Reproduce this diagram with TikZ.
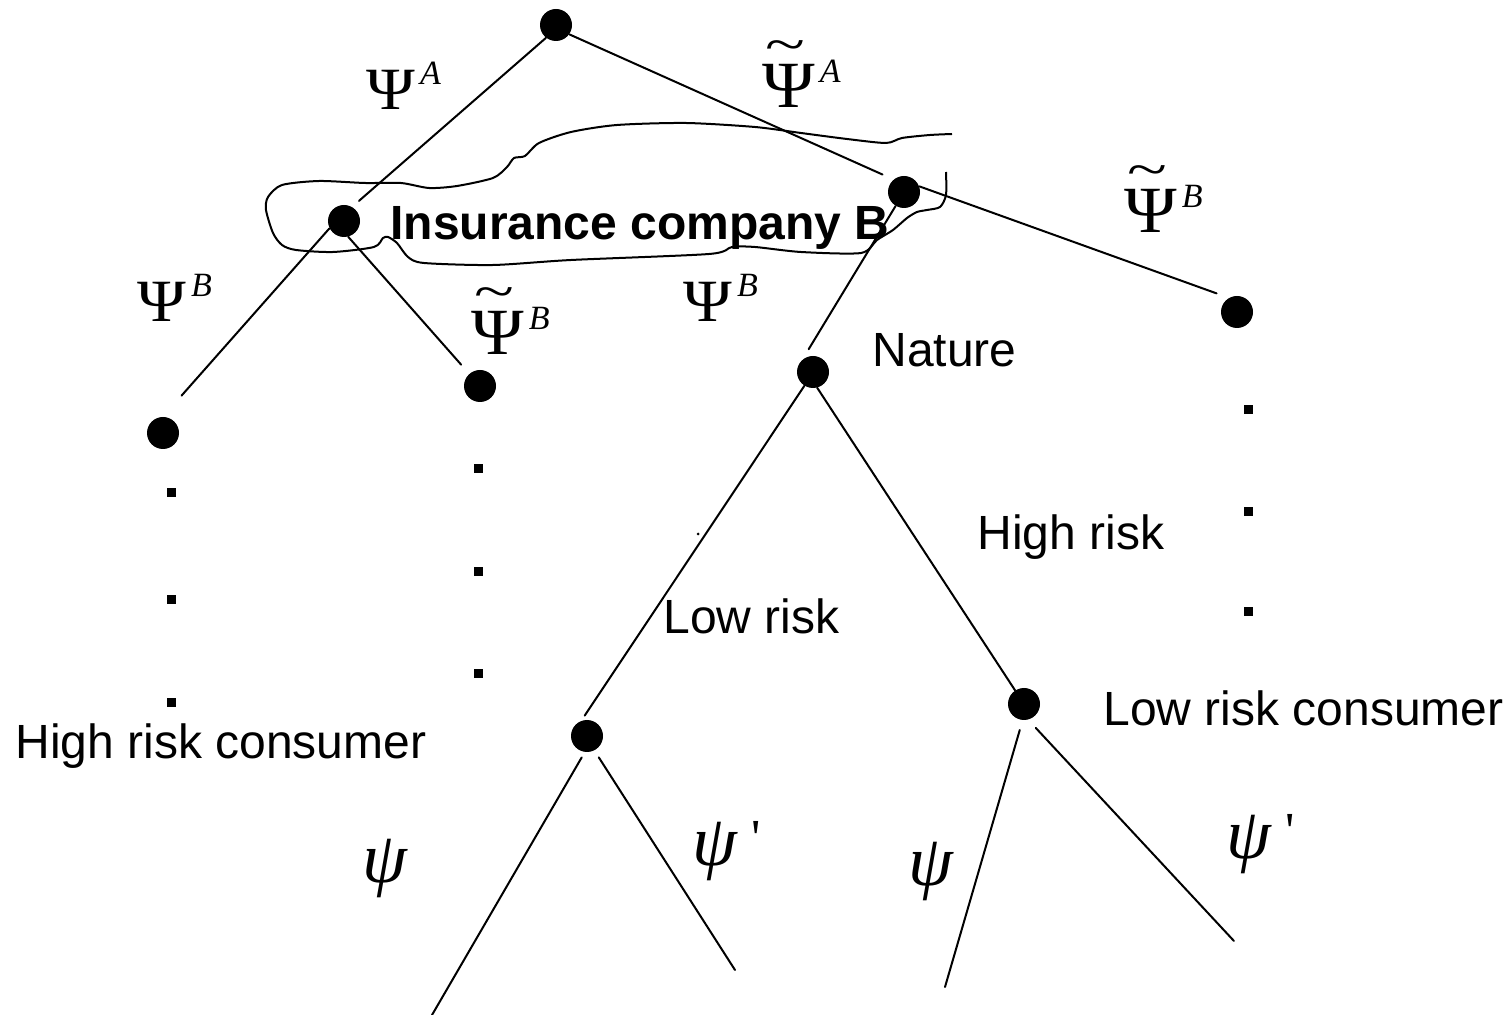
\documentclass[tikz,border=0pt]{standalone}
\usepackage{fontspec}
\setmainfont{Liberation Sans}
\newfontfamily\greekserif{Liberation Serif}
\usepackage{graphicx}
\usepackage{tikz}
\usetikzlibrary{calc}
\newcommand{\supmark}[1]{\hspace{2.5pt}\raisebox{12.5pt}{\fontsize{17}{17}\selectfont\itshape #1}}
\newcommand{\Psilab}[1]{{\greekserif\fontsize{30}{30}\selectfont\scalebox{1.1}[1]{Ψ}\supmark{#1}}}
\newcommand{\Psitlab}[1]{{\greekserif\fontsize{33}{34}\selectfont\ooalign{\scalebox{1.08}[1]{Ψ}\cr\hidewidth\raisebox{23pt}{\fontsize{23}{23}\selectfont\scalebox{1.6}[1.1]{\char`\~}}\hspace{3pt}\hidewidth\cr}\supmark{#1}}}
\newcommand{\psilab}{{\greekserif\itshape\fontsize{36}{36}\selectfont ψ}}
\newcommand{\psiplab}{{\greekserif\fontsize{36}{36}\selectfont{\itshape ψ}\hspace{7pt}\raisebox{5pt}{\fontsize{26}{26}\selectfont '}}}
\tikzset{
  decnode/.style={circle, fill=black, inner sep=0pt, minimum size=16pt},
  sqdot/.style={rectangle, fill=black, inner sep=0pt, minimum size=4.5pt},
  branch/.style={line width=1pt, line cap=round},
  txt/.style={font=\fontsize{24}{28}\selectfont, inner sep=0pt, anchor=base west},
  mlab/.style={inner sep=0pt, anchor=base west}
}
\begin{document}
\begin{tikzpicture}[x=0.5pt, y=-0.5pt]
  \useasboundingbox (0,0) rectangle (1511,1015);
  % decision nodes
  \node[decnode] (coA) at (556,25) {};
  \node[decnode] (coBa) at (344,221) {};
  \node[decnode] (coBb) at (904,192) {};
  \node[decnode] (endPP) at (163,433) {};
  \node[decnode] (endPT) at (480,386) {};
  \node[decnode] (endTT) at (1237,312) {};
  \node[decnode] (nature) at (813,372) {};
  \node[decnode] (lowcons) at (587,736) {};
  \node[decnode] (highcons) at (1024,704) {};
  \coordinate (leafA) at (432,1015);
  \coordinate (leafB) at (735,970);
  \coordinate (leafC) at (945,987);
  \coordinate (leafD) at (1234,941);
  \node[circle, fill=black, inner sep=0pt, minimum size=1.5pt] (speck) at (698,534) {};

  \foreach \x/\y in {171/493, 171/600, 171/703, 478/469, 478/572, 478/674, 1248/410, 1248/512, 1248/612}
    \node[sqdot] at (\x,\y) {};

  \draw[branch, shorten >=4.5pt] (coA.232) -- (coBa.60);
  \draw[branch, shorten >=6pt] (coA.-35) -- (coBb.130);
  \draw[branch, shorten >=14pt] (coBa.207) -- (endPP.north);
  \draw[branch, shorten >=6pt] (coBa.-75) -- (endPT);
  \draw[branch, shorten >=6.5pt] (coBb.20) -- (endTT.120);
  \draw[branch, shorten >=6pt] (coBb.239) -- (nature.130);
  \draw[branch, shorten >=3pt] (nature.238) -- (lowcons.110);
  \draw[branch] (nature.-75) -- (highcons);
  \draw[branch, shorten <=3pt] (lowcons.262) -- (leafA);
  \draw[branch, shorten <=4pt] (lowcons.-63) -- (leafB);
  \draw[branch, shorten <=5pt] (highcons.265) -- (leafC);
  \draw[branch, shorten <=5.5pt] (highcons.-75) -- (leafD);

  % information set of company B
  \draw[line width=1pt, line join=round] plot[smooth, tension=0.45] coordinates {
    (952,134) (930,135) (902,138) (886,143) (847,139) (801,133) (755,127) (686,123)
    (617,125) (571,132) (539,143) (525,156) (514,158) (507,167) (493,178) (457,186)
    (429,188) (401,183) (365,183) (319,181) (282,185) (268,197) (266,210) (273,233)
    (282,245) (296,250) (333,252) (374,247) (383,238) (388,237) (397,243) (408,257)
    (424,263) (493,265) (571,260) (709,254) (732,247) (755,247) (801,252) (861,253)
    (877,240) (893,230) (907,218) (917,212) (927,210) (940,207) (946,195) (946,172)};

  \node[txt, font=\fontsize{24}{28}\selectfont\bfseries] (compB) at (390,240) {Insurance company B};
  \node[txt] (naturelab) at (872,367) {Nature};
  \node[txt] (highlab) at (977,550) {High risk};
  \node[txt] (lowlab) at (663,634) {Low risk};
  \node[txt] (highconslab) at (15,759) {High risk consumer};
  \node[txt] (lowconslab) at (1103,726) {Low risk consumer};

  \node[mlab] (psiA) at (366,110) {\Psilab{A}};
  \node[mlab] (psitA) at (762,108) {\Psitlab{A}};
  \node[mlab] (psitBr) at (1124,233) {\Psitlab{B}};
  \node[mlab] (psiBl) at (137,322) {\Psilab{B}};
  \node[mlab] (psitBm) at (471,355) {\Psitlab{B}};
  \node[mlab] (psiBm) at (683,322) {\Psilab{B}};

  \node[mlab] (psiL) at (362,882) {\psilab};
  \node[mlab] (psipL) at (692,865) {\psiplab};
  \node[mlab] (psiR) at (908,885) {\psilab};
  \node[mlab] (psipR) at (1226,858) {\psiplab};
\end{tikzpicture}
\end{document}
